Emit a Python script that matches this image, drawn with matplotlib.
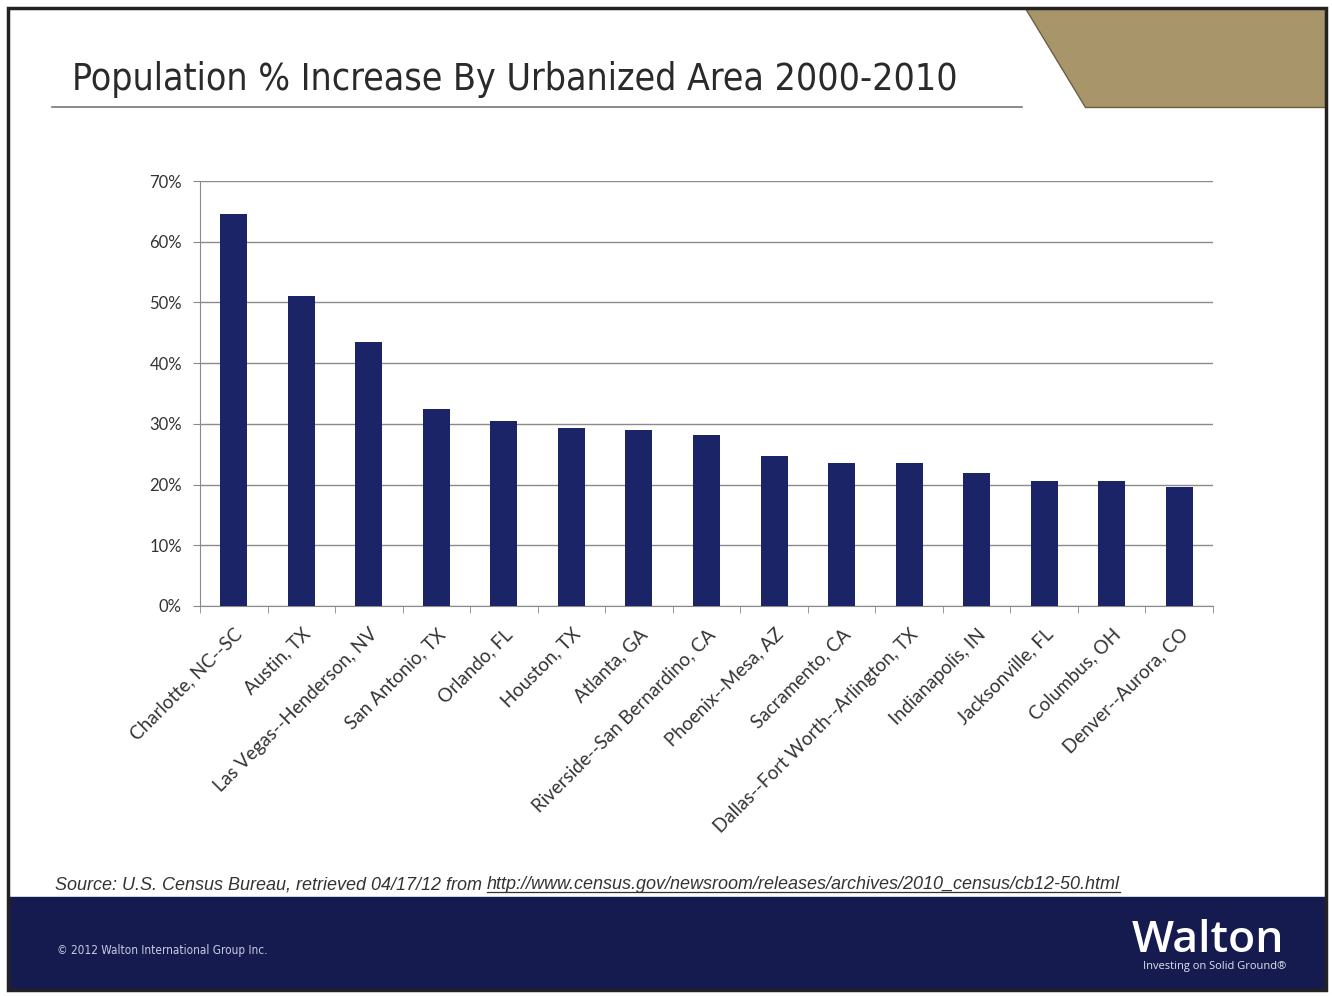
import matplotlib
matplotlib.use("Agg")
import matplotlib.pyplot as plt
from matplotlib.patches import Polygon, Rectangle
from matplotlib.lines import Line2D
from matplotlib.ticker import FuncFormatter

# Urbanized areas and their 2000-2010 population growth (%)
areas = [
    "Charlotte, NC--SC", "Austin, TX", "Las Vegas--Henderson, NV",
    "San Antonio, TX", "Orlando, FL", "Houston, TX", "Atlanta, GA",
    "Riverside--San Bernardino, CA", "Phoenix--Mesa, AZ", "Sacramento, CA",
    "Dallas--Fort Worth--Arlington, TX", "Indianapolis, IN",
    "Jacksonville, FL", "Columbus, OH", "Denver--Aurora, CO",
]
growth = [64.6, 51.1, 43.5, 32.4, 30.4, 29.3, 29.0, 28.2,
          24.7, 23.6, 23.6, 21.9, 20.6, 20.6, 19.6]
y_ticks = [0, 10, 20, 30, 40, 50, 60, 70]

title = "Population % Increase By Urbanized Area 2000-2010"
source_prefix = "Source: U.S. Census Bureau, retrieved 04/17/12 from "
source_url = "http://www.census.gov/newsroom/releases/archives/2010_census/cb12-50.html"
copyright_txt = "\u00a9 2012 Walton International Group Inc."

W, H = 1332, 996
NAVY = "#1c2468"
BAND = "#161b4f"


def px(x, y):
    """pixel coords (origin top-left) -> figure fraction"""
    return x / W, 1 - y / H


fig = plt.figure(figsize=(W / 100, H / 100), dpi=100)
fig.patch.set_facecolor("white")

# slide frame and footer band
fig.add_artist(Rectangle(px(8, 990), (1326 - 8) / W, (990 - 897) / H,
                         transform=fig.transFigure, color=BAND, zorder=0))
fig.add_artist(Rectangle(px(8, 990), (1326 - 8) / W, (990 - 8) / H,
                         transform=fig.transFigure, fill=False,
                         edgecolor="#222222", lw=2.5, zorder=5))

# tan header tab
tab = [px(1025, 8), px(1326, 8), px(1326, 107), px(1085, 107)]
fig.add_artist(Polygon(tab, closed=True, transform=fig.transFigure,
                       facecolor="#a8966a", edgecolor="#6b5f45", lw=1.0,
                       zorder=1))

# title and rule
tx, ty = px(72, 80)
fig.text(tx, ty, title, fontsize=26.8, color="#2a2a2a", va="center",
         ha="left", family="DejaVu Sans", fontstretch="condensed")
x0, yy = px(52, 107)
x1, _ = px(1022, 107)
fig.add_artist(Line2D([x0, x1], [yy, yy], transform=fig.transFigure,
                      color="#777777", lw=1.2))

# chart
l, b = px(200, 606)
ax = fig.add_axes([l, b, 1013 / W, 425 / H])
xs = list(range(len(areas)))
ax.bar(xs, growth, width=0.4, color=NAVY, zorder=3)

ax.set_xlim(-0.5, len(areas) - 0.5)
ax.set_ylim(0, 70)
ax.set_yticks(y_ticks)
ax.yaxis.set_major_formatter(FuncFormatter(lambda v, _: f"{v:.0f}%"))
ax.grid(axis="y", color="#8a8a8a", lw=1.0, zorder=0)
for s in ("top", "right"):
    ax.spines[s].set_visible(False)
ax.spines["left"].set_color("#8a8a8a")
ax.spines["bottom"].set_color("#8a8a8a")
ax.tick_params(axis="y", length=5, color="#8a8a8a", labelsize=12,
               labelcolor="#333333", pad=8)

ax.set_xticks(xs)
ax.set_xticklabels(areas, rotation=45, ha="right", rotation_mode="anchor",
                   fontsize=13.5, color="#333333", family="Lato")
ax.tick_params(axis="x", length=0, pad=14)
ax.set_xticks([i - 0.5 for i in range(len(areas) + 1)], minor=True)
ax.tick_params(axis="x", which="minor", length=5, color="#8a8a8a")
for t in ax.get_yticklabels():
    t.set_family("Lato")

# source line with underlined link
sx, sy = px(55, 889)
src = fig.text(sx, sy, source_prefix, fontsize=13, style="italic",
               color="#333333", va="baseline", family="Liberation Sans")
fig.canvas.draw()
bb = src.get_window_extent().transformed(fig.transFigure.inverted())
url = fig.text(bb.x1, sy, source_url, fontsize=13, style="italic",
               color="#333333", va="baseline", family="Liberation Sans")
fig.canvas.draw()
ub = url.get_window_extent().transformed(fig.transFigure.inverted())
uy = sy - 3 / H
fig.add_artist(Line2D([ub.x0, ub.x1], [uy, uy], transform=fig.transFigure,
                      color="#333333", lw=0.9))

# footer texts
cx, cy = px(57, 950)
fig.text(cx, cy, copyright_txt, fontsize=8.5, color="#c8cbe0", va="center",
         family="DejaVu Sans", fontstretch="condensed")
wx, wy = px(1284, 940)
fig.text(wx, wy, "Walton", fontsize=32, color="white", ha="right",
         va="center", family="Open Sans", fontweight="semibold")
gx, gy = px(1286, 966)
fig.text(gx, gy, "Investing on Solid Ground\u00ae", fontsize=8,
         color="#e0e2ee", ha="right", va="center", family="Open Sans")

fig.savefig("out.png", dpi=100)
